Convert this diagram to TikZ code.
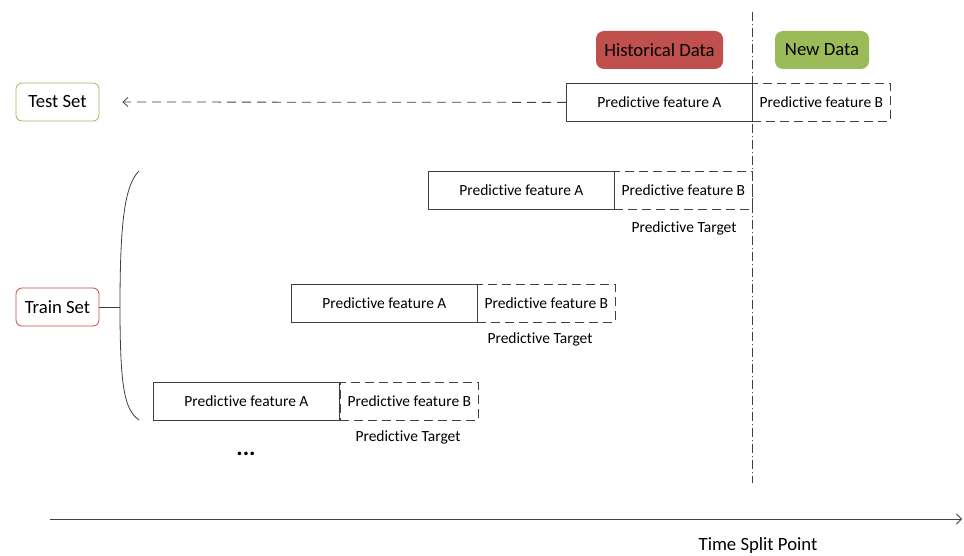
\documentclass[tikz,border=0pt]{standalone}
\usepackage{fontspec}
\setmainfont{Carlito}[Ligatures=NoCommon]
\usetikzlibrary{arrows.meta}
\definecolor{histred}{HTML}{C0504D}
\definecolor{newgreen}{HTML}{9BBB59}
\definecolor{linegray}{HTML}{404040}
\begin{document}
\begin{tikzpicture}[x=1pt,y=-1pt,
  feat/.style={draw=linegray,line width=0.8pt,minimum width=186pt,minimum height=38pt,inner sep=0pt,font=\fontsize{15.5}{18}\selectfont,anchor=north west},
  featB/.style={draw=linegray,line width=0.8pt,dash pattern=on 9pt off 5pt,minimum width=138pt,minimum height=38pt,inner sep=0pt,font=\fontsize{15.5}{18}\selectfont,anchor=north west},
  target/.style={font=\fontsize{15.5}{18}\selectfont},
  setbox/.style={draw,rounded corners=6pt,line width=0.8pt,minimum width=83pt,minimum height=38pt,inner sep=0pt,font=\fontsize{18.7}{21}\selectfont},
  tag/.style={rounded corners=8pt,minimum height=38pt,inner sep=0pt,font=\fontsize{18.7}{21}\selectfont}]
\useasboundingbox (0,0) rectangle (964,556);

% data-age labels
\node[tag,fill=histred,minimum width=127pt] (hist) at (659.5,50) {Historical Data};
\node[tag,fill=newgreen,minimum width=94pt] (new) at (822,50) {New Data};

% split line
\coordinate (splittop) at (752,12);
\coordinate (splitbot) at (752,483);
\draw[linegray,line width=0.7pt,dash pattern=on 9pt off 3pt on 1pt off 3pt] (splittop) -- (splitbot);

% test sample
\node[setbox,draw=newgreen] (test) at (57.5,102) {Test Set};
\node[feat] (tA) at (566,83) {Predictive feature A};
\node[featB] (tB) at (752,83) {Predictive feature B};
\draw[linegray,line width=0.8pt,dash pattern=on 9pt off 6pt,shorten >=23pt,-{Straight Barb[length=5pt,width=9pt]}] (tA.west) -- (test.east);

% training samples
\node[feat] (a1) at (428,171) {Predictive feature A};
\node[featB] (b1) at (614,171) {Predictive feature B};
\node[target] (t1) at (684,228) {Predictive Target};

\node[feat] (a2) at (291,284) {Predictive feature A};
\node[featB] (b2) at (477,284) {Predictive feature B};
\node[target] (t2) at (540,339) {Predictive Target};

\node[feat] (a3) at (153,382) {Predictive feature A};
\node[featB] (b3) at (340,382) {Predictive feature B};
\node[target] (t3) at (408,437) {Predictive Target};

\node[font=\fontsize{24}{26}\selectfont\bfseries] (dots) at (246,454) {...};

% train set and brace
\node[setbox,draw=histred] (train) at (57.5,307) {Train Set};
\coordinate (bracetop) at (139,171);
\coordinate (bracemid) at (120,307);
\coordinate (bracebot) at (139,420);
\draw[linegray,line width=0.8pt] (bracetop) .. controls (125,185) and (120,220) .. (bracemid)
  .. controls (120,390) and (125,410) .. (bracebot);
\draw[linegray,line width=0.8pt] (train.east) -- (bracemid);

% time axis
\coordinate (axstart) at (50,519);
\coordinate (axend) at (962,519);
\draw[linegray,line width=0.8pt,-{Straight Barb[length=5pt,width=10pt]}] (axstart) -- (axend);
\node[font=\fontsize{18.7}{21}\selectfont] (split) at (758,546) {Time Split Point};
\end{tikzpicture}
\end{document}
